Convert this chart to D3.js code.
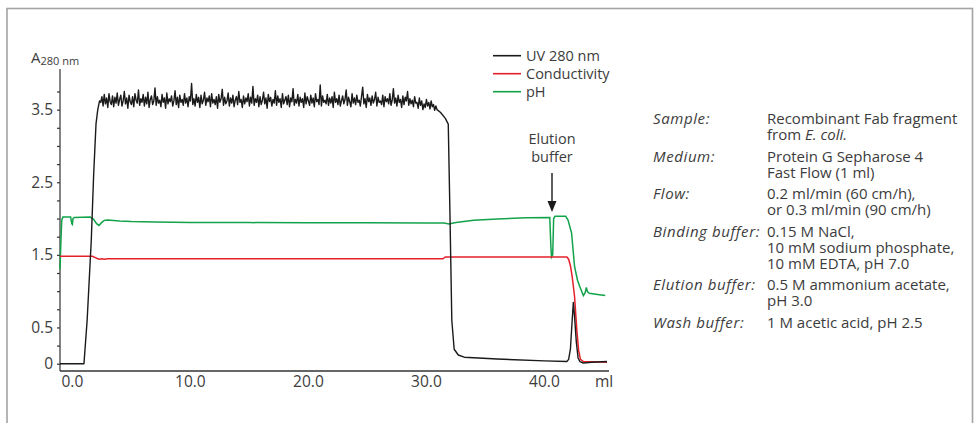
<!DOCTYPE html>
<html>
<head>
  <meta charset="UTF-8">
  <style>
    body {
      margin: 0;
      background-color: white;
      font-family: 'Open Sans', sans-serif;
      color: #3c3c3c;
    }
    svg {
      display: block;
    }
    text {
      fill: #3c3c3c;
    }
  </style>
</head>
<body>

<svg></svg>

<script src="https://d3js.org/d3.v7.min.js"></script>

<script>
let width = 974, height = 423;

// UV 280 nm trace, before and after the noisy loading plateau
let uvStartMl = [-1.05, 0.98, 1.25, 1.6, 1.8, 2.0, 2.15, 2.3];
let uvStartA  = [0, 0, 0.6, 1.7, 2.6, 3.3, 3.5, 3.62];

// plateau read every 0.1 ml from 2.4 ml to 30.9 ml
let plateauStart = 2.4, plateauStep = 0.1;
let uvPlateau = [
  3.60,3.68,3.55,3.71,3.58,3.66,3.53,3.72,3.61,3.57,3.69,3.54,
  3.67,3.59,3.73,3.56,3.64,3.70,3.55,3.62,3.75,3.58,3.66,3.52,
  3.70,3.61,3.57,3.68,3.54,3.72,3.63,3.59,3.77,3.56,3.65,3.60,
  3.71,3.55,3.67,3.58,3.74,3.53,3.64,3.69,3.57,3.62,3.80,3.56,
  3.68,3.59,3.63,3.54,3.71,3.60,3.66,3.52,3.73,3.58,3.65,3.61,
  3.69,3.55,3.62,3.76,3.57,3.67,3.53,3.70,3.60,3.64,3.56,3.72,
  3.59,3.66,3.54,3.68,3.62,3.86,3.57,3.65,3.55,3.71,3.60,3.67,
  3.53,3.70,3.58,3.63,3.74,3.56,3.66,3.61,3.69,3.54,3.72,3.59,
  3.64,3.57,3.68,3.52,3.71,3.60,3.65,3.78,3.56,3.67,3.58,3.62,
  3.73,3.55,3.66,3.59,3.70,3.54,3.63,3.68,3.57,3.75,3.60,3.64,
  3.53,3.69,3.58,3.66,3.61,3.72,3.55,3.67,3.59,3.82,3.56,3.65,
  3.60,3.70,3.54,3.68,3.57,3.63,3.74,3.58,3.66,3.52,3.71,3.61,
  3.67,3.55,3.64,3.59,3.76,3.56,3.69,3.60,3.65,3.53,3.72,3.58,
  3.63,3.68,3.57,3.70,3.54,3.66,3.61,3.79,3.56,3.64,3.59,3.71,
  3.55,3.67,3.60,3.65,3.53,3.73,3.58,3.68,3.62,3.56,3.70,3.59,
  3.66,3.54,3.72,3.61,3.64,3.57,3.84,3.55,3.69,3.60,3.63,3.58,
  3.71,3.56,3.66,3.59,3.68,3.53,3.74,3.60,3.65,3.57,3.70,3.55,
  3.62,3.69,3.58,3.64,3.77,3.56,3.67,3.61,3.54,3.72,3.59,3.66,
  3.57,3.70,3.60,3.63,3.55,3.68,3.81,3.58,3.65,3.53,3.71,3.61,
  3.66,3.56,3.69,3.59,3.64,3.74,3.55,3.67,3.60,3.62,3.57,3.70,
  3.54,3.68,3.61,3.65,3.58,3.72,3.56,3.63,3.79,3.59,3.66,3.55,
  3.70,3.60,3.64,3.53,3.69,3.57,3.67,3.62,3.75,3.56,3.65,3.58,
  3.63,3.54,3.68,3.59,3.60,3.52,3.66,3.56,3.62,3.50,3.58,3.53,
  3.64,3.55,3.60,3.51,3.62,3.54,3.57,3.49,3.55,3.50
];

let uvEndMl = [31.2, 31.6, 31.85, 32.0, 32.15, 32.35, 32.7, 33.2, 36.0, 40.0, 41.9, 42.05, 42.2, 42.35, 42.45, 42.55, 42.7, 42.85, 43.0, 43.3, 44.0, 45.3];
let uvEndA  = [3.46, 3.38, 3.30, 2.0, 0.6, 0.2, 0.12, 0.09, 0.065, 0.04, 0.03, 0.06, 0.2, 0.6, 0.845, 0.65, 0.3, 0.08, 0.03, 0.01, 0.02, 0.03];

// conductivity trace
let condMl = [-1.05, 1.7, 1.9, 2.1, 2.3, 2.5, 2.7, 3.0, 31.4, 31.6, 41.9, 42.05, 42.2, 42.35, 42.55, 42.75, 42.9, 43.05, 43.3, 45.3];
let condV  = [1.48, 1.48, 1.465, 1.45, 1.44, 1.445, 1.44, 1.445, 1.445, 1.47, 1.47, 1.44, 1.35, 1.2, 0.93, 0.45, 0.18, 0.06, 0.03, 0.02];

// pH trace
let phMl = [-1.05, -0.97, -0.9, -0.8, -0.15, -0.05, 0.0, 0.05, 0.15, 1.5, 1.8, 2.05, 2.25, 2.45, 2.7, 3.0, 4.0, 5.0, 7.0, 10.0, 15.0, 20.0, 25.0, 30.0, 31.5, 31.9, 32.5, 34.0, 36.0, 38.5, 40.45, 40.55, 40.6, 40.7, 40.78, 40.9, 41.8, 42.0, 42.3, 42.55, 42.8, 43.0, 43.3, 43.45, 43.55, 43.65, 43.8, 44.5, 45.15];
let phV  = [1.30, 1.70, 1.98, 2.02, 2.02, 1.93, 1.92, 2.0, 2.015, 2.02, 1.99, 1.93, 1.905, 1.94, 1.975, 1.98, 1.965, 1.958, 1.952, 1.946, 1.944, 1.942, 1.942, 1.94, 1.938, 1.925, 1.945, 1.975, 1.995, 2.01, 2.015, 1.6, 1.47, 1.5, 2.0, 2.03, 2.03, 1.98, 1.80, 1.34, 1.15, 1.06, 0.94, 0.98, 1.05, 0.99, 0.97, 0.955, 0.94];

let xTicks = [0, 10, 20, 30, 40];
let yLabels = [0, 0.5, 1.5, 2.5, 3.5];
let yMinor = [0, 0.25, 0.5, 0.75, 1, 1.25, 1.5, 1.75, 2, 2.25, 2.5, 2.75, 3, 3.25, 3.5, 3.75];

let legendItems = ["UV 280 nm", "Conductivity", "pH"];
let legendColors = ["#1a1a1a", "#e5202a", "#12a34a"];

let notes = [
  {label: "Sample:", lines: [["Recombinant Fab fragment"], ["from ", "E. coli."]]},
  {label: "Medium:", lines: [["Protein G Sepharose 4"], ["Fast Flow (1 ml)"]]},
  {label: "Flow:", lines: [["0.2 ml/min (60 cm/h),"], ["or 0.3 ml/min (90 cm/h)"]]},
  {label: "Binding buffer:", lines: [["0.15 M NaCl,"], ["10 mM sodium phosphate,"], ["10 mM EDTA, pH 7.0"]]},
  {label: "Elution buffer:", lines: [["0.5 M ammonium acetate,"], ["pH 3.0"]]},
  {label: "Wash buffer:", lines: [["1 M acetic acid, pH 2.5"]]}
];

let svg = d3.select("svg")
    .attr("width", width)
    .attr("height", height);

// frame
svg.append("rect")
    .attr("x", 7).attr("y", 8.5)
    .attr("width", 965.5).attr("height", 500)
    .attr("fill", "none")
    .attr("stroke", "#a3a3a3")
    .attr("stroke-width", 1.6);

let x = d3.scaleLinear().domain([-1.05, 45.47]).range([60, 609]);
let y = d3.scaleLinear().domain([-0.1, 4.06]).range([371, 69]);

// build series
let uv = uvStartMl.map((m, i) => [m, uvStartA[i]]);
uvPlateau.forEach((v, i) => uv.push([plateauStart + i * plateauStep, v]));
uvEndMl.forEach((m, i) => uv.push([m, uvEndA[i]]));
let cond = condMl.map((m, i) => [m, condV[i]]);
let ph = phMl.map((m, i) => [m, phV[i]]);

let line = d3.line().x(d => x(d[0])).y(d => y(d[1]));

// axes
let yAxis = svg.append("g")
    .attr("transform", "translate(60,0)")
    .call(d3.axisLeft(y).tickValues(yMinor).tickSize(3).tickFormat(""));
yAxis.select(".domain").attr("d", "M0," + y(4.06) + "V" + y(-0.1));
yAxis.selectAll("path, line").attr("stroke", "#333").attr("stroke-width", 1.2);

svg.append("line")
    .attr("x1", 60).attr("x2", 609)
    .attr("y1", 371).attr("y2", 371)
    .attr("stroke", "#333").attr("stroke-width", 1.4);

svg.selectAll(".ylab")
    .data(yLabels)
    .enter()
    .append("text")
    .attr("x", 53)
    .attr("y", d => y(d))
    .attr("dy", "0.36em")
    .attr("text-anchor", "end")
    .style("font-size", "15.5px")
    .text(d => d === 0 ? "0" : d3.format(".1f")(d));

svg.selectAll(".xlab")
    .data(xTicks)
    .enter()
    .append("text")
    .attr("x", d => x(d))
    .attr("y", 387)
    .attr("text-anchor", "middle")
    .style("font-size", "15.5px")
    .text(d => d3.format(".1f")(d));

svg.append("text")
    .attr("x", 595).attr("y", 387)
    .style("font-size", "15.5px")
    .text("ml");

let aLabel = svg.append("text")
    .attr("x", 31).attr("y", 63)
    .style("font-size", "15px");
aLabel.append("tspan").text("A");
aLabel.append("tspan").attr("dy", 2).style("font-size", "11px").text("280 nm");

// traces
svg.append("path").datum(ph)
    .attr("d", line).attr("fill", "none")
    .attr("stroke", legendColors[2]).attr("stroke-width", 1.5);
svg.append("path").datum(cond)
    .attr("d", line).attr("fill", "none")
    .attr("stroke", legendColors[1]).attr("stroke-width", 1.5);
svg.append("path").datum(uv)
    .attr("d", line).attr("fill", "none")
    .attr("stroke", legendColors[0]).attr("stroke-width", 1.4)
    .attr("stroke-linejoin", "round");

// legend: one text block, lines drawn beside each row
svg.selectAll(".legline")
    .data(legendItems)
    .enter()
    .append("line")
    .attr("x1", 493).attr("x2", 521)
    .attr("y1", (d, i) => 55.7 + i * 18)
    .attr("y2", (d, i) => 55.7 + i * 18)
    .attr("stroke", (d, i) => legendColors[i])
    .attr("stroke-width", 1.6);
svg.append("text")
    .attr("y", 55.7)
    .style("font-size", "14.5px")
    .selectAll("tspan")
    .data(legendItems)
    .enter()
    .append("tspan")
    .attr("x", 526)
    .attr("dy", (d, i) => i === 0 ? "0.36em" : 18)
    .text(d => d);

// elution buffer arrow
let elu = svg.append("text")
    .attr("y", 144)
    .attr("text-anchor", "middle")
    .style("font-size", "14.5px");
elu.append("tspan").attr("x", 552).text("Elution");
elu.append("tspan").attr("x", 552).attr("dy", 18).text("buffer");
svg.append("line")
    .attr("x1", 552).attr("x2", 552)
    .attr("y1", 173).attr("y2", 203)
    .attr("stroke", "#1a1a1a").attr("stroke-width", 1.4);
svg.append("path")
    .attr("d", "M547.5,201L556.5,201L552,212Z")
    .attr("fill", "#1a1a1a");

// notes panel
let yPos = 124;
notes.forEach(n => {
  svg.append("text")
      .attr("x", 653).attr("y", yPos)
      .style("font-size", "15px")
      .style("font-style", "italic")
      .style("letter-spacing", "0.6px")
      .text(n.label);
  let t = svg.append("text")
      .attr("y", yPos)
      .style("font-size", "15px");
  n.lines.forEach((parts, j) => {
    parts.forEach((p, k) => {
      let s = t.append("tspan")
          .style("font-style", k === 1 ? "italic" : "normal")
          .text(p);
      if (k === 0) s.attr("x", 767).attr("dy", j === 0 ? 0 : 16);
    });
  });
  yPos += (n.lines.length - 1) * 16 + 21.5;
});
</script>

</body>
</html>
